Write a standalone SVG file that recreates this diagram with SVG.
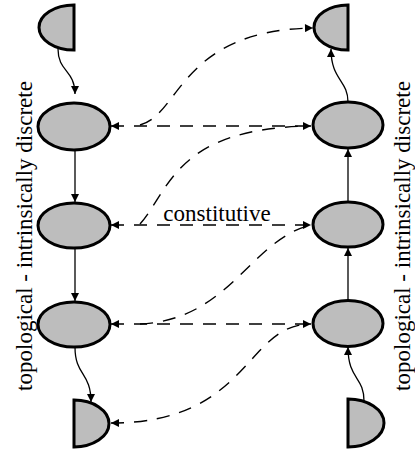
<svg xmlns="http://www.w3.org/2000/svg" width="415" height="452" viewBox="0 0 415 452">
<defs>
<marker id="ah" viewBox="0 0 10 10" refX="10" refY="5" markerWidth="9" markerHeight="8" markerUnits="userSpaceOnUse" orient="auto-start-reverse">
<path d="M0,0 L10,5 L0,10 Z" fill="#000"/>
</marker>
</defs>
<style>
.node{fill:#bdbdbd;stroke:#000;stroke-width:3}
.solid{fill:none;stroke:#000;stroke-width:1.3}
.dash{fill:none;stroke:#000;stroke-width:1.4;stroke-dasharray:13,10}
.lbl{font-size:23px;fill:#000}
</style>
<rect width="415" height="452" fill="#fff"/>
<g id="connectors">
<path class="solid" d="M58,49 C58,72 75,70 75,94" marker-end="url(#ah)"/>
<path class="solid" d="M75,150 V202" marker-end="url(#ah)"/>
<path class="solid" d="M75,248 V301" marker-end="url(#ah)"/>
<path class="solid" d="M75,347 C75,376 91,372 91,402" marker-end="url(#ah)"/>
<path class="solid" d="M364,401 C364,376 348,380 348,347" marker-end="url(#ah)"/>
<path class="solid" d="M348,300 V248" marker-end="url(#ah)"/>
<path class="solid" d="M348,202 V149" marker-end="url(#ah)"/>
<path class="solid" d="M348,102 C348,80 331,80 331,49" marker-end="url(#ah)"/>
<path class="dash" d="M111,126 H311" marker-start="url(#ah)" marker-end="url(#ah)"/>
<path class="dash" d="M111,225 H311" marker-start="url(#ah)" marker-end="url(#ah)"/>
<path class="dash" d="M111,324 H311" marker-start="url(#ah)" marker-end="url(#ah)"/>
<path class="dash" d="M140,125 C180,115 180,30 313,28" marker-end="url(#ah)"/>
<path class="dash" d="M140,224 C170,190 175,128 311,126"/>
<path class="dash" d="M140,324 C230,320 250,240 311,225"/>
<path class="dash" d="M111,423 C250,423 245,324 311,324" marker-start="url(#ah)"/>
</g>
<g id="L1"><path class="node" d="M74,5 A35,22.5 0 0 0 74,50 Z"/></g>
<g id="L2"><ellipse class="node" cx="74" cy="126.5" rx="36" ry="23.5"/></g>
<g id="L3"><ellipse class="node" cx="74" cy="225.5" rx="36" ry="22.5"/></g>
<g id="L4"><ellipse class="node" cx="74" cy="324.5" rx="36" ry="22.5"/></g>
<g id="L5"><path class="node" d="M74,400 A35,23.5 0 0 1 74,447 Z"/></g>
<g id="R1"><path class="node" d="M348,5 A34,22.5 0 0 0 348,50 Z"/></g>
<g id="R2"><ellipse class="node" cx="348" cy="125" rx="35" ry="23"/></g>
<g id="R3"><ellipse class="node" cx="348" cy="224.5" rx="35" ry="22.5"/></g>
<g id="R4"><ellipse class="node" cx="348" cy="323.5" rx="35" ry="23"/></g>
<g id="R5"><path class="node" d="M348,399 A36,24 0 0 1 348,447 Z"/></g>
<g id="labels" font-family="'Liberation Serif', 'DejaVu Serif', serif">
<text class="lbl" text-anchor="middle" transform="translate(32,236) rotate(-90)">topological - intrinsically discrete</text>
<text class="lbl" text-anchor="middle" transform="translate(410,236) rotate(-90)">topological - intrinsically discrete</text>
<text class="lbl" x="217" y="221" text-anchor="middle">constitutive</text>
</g>
</svg>
